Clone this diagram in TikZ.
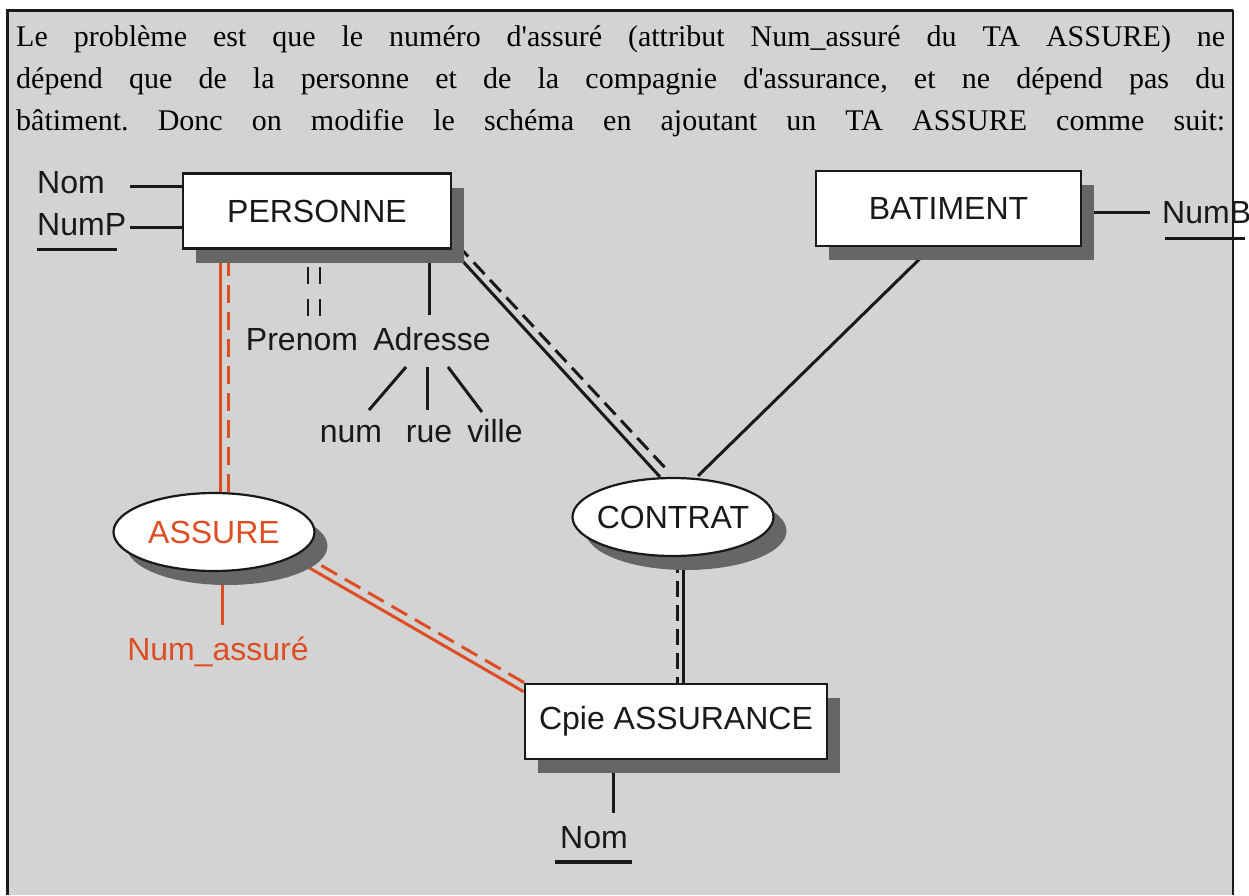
\documentclass[tikz,border=0pt]{standalone}
\usepackage{fontspec}
\newfontfamily\bodyfont{Liberation Serif}
\newfontfamily\diagfont{Liberation Sans}
\usetikzlibrary{calc,shapes.geometric,shadows,backgrounds}
\definecolor{panelgray}{RGB}{211,211,211}
\definecolor{shadegray}{RGB}{102,102,102}
\definecolor{tared}{RGB}{222,78,36}
\definecolor{ink}{RGB}{25,25,25}
\begin{document}
\begin{tikzpicture}[x=1pt,y=-1pt,
  boxshadow/.style={drop shadow={shadow xshift=13pt,shadow yshift=-14pt,fill=shadegray,opacity=1,draw=none}},
  entity/.style={draw=ink,line width=2.6pt,fill=white,minimum width=#1,minimum height=75pt,
    inner sep=0pt,font=\diagfont\fontsize{32}{32}\selectfont,text=ink,boxshadow},
  relation/.style={ellipse,draw=ink,line width=2.2pt,fill=white,minimum width=201pt,minimum height=78pt,
    inner xsep=-12pt,inner ysep=0pt,font=\diagfont\fontsize{32}{32}\selectfont,text=ink,boxshadow},
  attr/.style={inner sep=0pt,font=\diagfont\fontsize{32}{32}\selectfont,text=ink},
  textline/.style={anchor=base west,inner sep=0pt,font=\bodyfont\fontsize{30}{30}\selectfont\frenchspacing},
  conn/.style={line width=3pt,draw=ink},
  dashconn/.style={conn,dash pattern=on 16pt off 8pt},
  pairdash/.style={line width=2.4pt,draw=ink,dash pattern=on 17pt off 15pt},
  redconn/.style={line width=3pt,draw=tared},
  reddash/.style={redconn,dash pattern=on 18pt off 9pt}]
\useasboundingbox (0,0) rectangle (1249,895);

% explanatory paragraph
\node[textline] (l1) at (16,46) {\makebox[1209pt][s]{Le problème est que le numéro d'assuré (attribut Num\_assuré du TA ASSURE) ne}};
\node[textline] (l2) at (16,88) {\makebox[1209pt][s]{dépend que de la personne et de la compagnie d'assurance, et ne dépend pas du}};
\node[textline] (l3) at (16,130) {\makebox[1209pt][s]{bâtiment. Donc on modifie le schéma en ajoutant un TA ASSURE comme suit:}};

% entities and relationships
\node[entity=268pt] (P) at (317,211) {PERSONNE};
\node[entity=265pt] (B) at (948.5,208.5) {BATIMENT};
\node[entity=302pt] (K) at (676,721.5) {Cpie ASSURANCE};
\node[relation] (C) at (673,517) {CONTRAT};
\node[relation,text=tared] (A) at (214,532) {ASSURE};

% attributes
\node[attr,anchor=base west] (nomP) at (37,193) {Nom};
\node[attr,anchor=base west] (numP) at (37,235) {NumP};
\node[attr,anchor=base] (pren) at (302,350) {Prenom};
\node[attr,anchor=base] (adr) at (432,350) {Adresse};
\node[attr,anchor=base] (num) at (351,442) {num};
\node[attr,anchor=base] (rue) at (429,442) {rue};
\node[attr,anchor=base] (ville) at (495,442) {ville};
\node[attr,anchor=base west] (numB) at (1162,223) {NumB};
\node[attr,anchor=base,text=tared] (numA) at (218,660) {Num\_assuré};
\node[attr,anchor=base] (nomK) at (594,848) {Nom};

\begin{scope}[on background layer]
  \fill[white] (0,0) rectangle (1249,895);
  \fill[panelgray] (7,10) rectangle (1233,895);

  % PERSONNE attributes
  \draw[conn] ($(P.west |- nomP.base)+(0,-7)$) -- ($(nomP.base west)+(93,-7)$);
  \draw[conn] ($(P.west |- numP.base)+(0,-8)$) -- ($(numP.base west)+(93,-8)$);
  \draw[conn] ($(numP.base west)+(0,14)$) -- ++(80,0);
  \draw[pairdash] ($(pren.north)+(6,-12)$) -- ++(0,-66);
  \draw[pairdash] ($(pren.north)+(18,-12)$) -- ++(0,-66);
  \draw[conn] ($(adr.north)+(-3,-12)$) -- ++(0,-66);
  \draw[conn] ($(adr.base)+(-26,17)$) -- ($(num.base)+(18,-32)$);
  \draw[conn] ($(adr.base)+(-5,17)$) -- ($(rue.base)+(-2,-32)$);
  \draw[conn] ($(adr.base)+(16,17)$) -- ($(ville.base)+(-13,-30)$);

  % PERSONNE -- CONTRAT -- BATIMENT
  \draw[conn] (P.south east) -- ($(C.north)+(-13,0)$);
  \draw[dashconn] ($(P.south east)+(5,-5)$) -- ($(C.north)+(-5,-6)$);
  \draw[conn] ($(B.south)+(-17,0)$) -- ($(C.north)+(25,-1)$);

  % BATIMENT identifier
  \draw[conn] (B.east |- numB.west) -- ($(numB.west)+(-12,0)$);
  \draw[conn] ($(numB.base west)+(3,15)$) -- ++(80,0);

  % CONTRAT -- Cpie ASSURANCE
  \draw[conn] ($(C.south)+(10,0)$) -- ($(K.north)+(7,0)$);
  \draw[dashconn] ($(C.south)+(4,0)$) -- ($(K.north)+(1,0)$);

  % ASSURE links
  \draw[redconn] ($(A.north)+(6,0)$) -- ($(P.south)+(-97,0)$);
  \draw[reddash] ($(A.north)+(14,0)$) -- ($(P.south)+(-89,0)$);
  \draw[redconn] ($(A.center)+(80,27)$) -- ($(K.north west)+(0,9)$);
  \draw[reddash] ($(A.center)+(84,20)$) -- ($(K.north west)+(4,2)$);
  \draw[redconn] ($(A.south)+(8,0)$) -- ($(numA.north)+(4,-11)$);

  % Cpie ASSURANCE identifier
  \draw[conn] ($(K.south)+(-63,0)$) -- ($(nomK.north)+(19,-13)$);
  \draw[conn,line width=4pt] ($(nomK.base west)+(-5,14)$) -- ++(77,0);
\end{scope}

% frame
\draw[line width=3pt,ink] (7,895) -- (7,10) -- (1233,10);
\draw[line width=2pt,ink] (1233,10) -- (1233,895);
\end{tikzpicture}
\end{document}
